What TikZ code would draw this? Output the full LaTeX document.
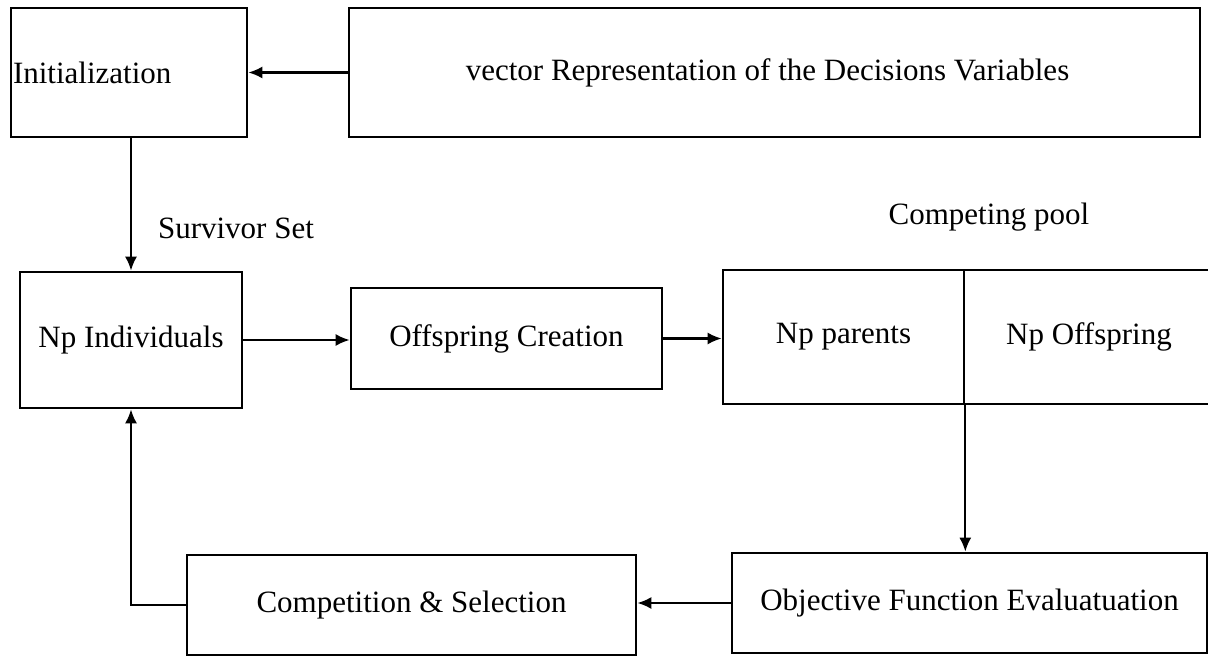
\documentclass[tikz,border=0pt]{standalone}
\usepackage{fontspec}
\setmainfont{Liberation Serif}
\usetikzlibrary{arrows.meta}

\begin{document}
\begin{tikzpicture}[x=1pt, y=-1pt, >={Latex[length=14pt,width=12pt]}, line join=miter]

% --- Global TikZ Styles ---
\tikzset{
    block/.style={
        draw=black,
        line width=2.6pt,
        inner sep=0pt,
        font=\fontsize{31}{36}\selectfont
    },
    flow/.style={
        ->,
        draw=black,
        line width=2.2pt
    },
    plaintext/.style={
        inner sep=0pt,
        font=\fontsize{31}{36}\selectfont
    }
}

% --- Frame ---
\useasboundingbox (0,0) rectangle (1208,658);
\clip (0,0) rectangle (1208,658);

% --- Bovenste rij ---
\node[block, minimum height=129pt, text width=232pt, inner xsep=2pt, align=left]
    (init) at (129,72.5) {Initialization};
\node[block, minimum width=851pt, minimum height=129pt]
    (vec) at (774.5,72.5) {\hspace*{-14pt}vector Representation of the Decisions Variables};

% --- Middelste rij ---
\node[block, minimum width=222pt, minimum height=136pt]
    (np) at (131,340) {Np Individuals};
\node[block, minimum width=311pt, minimum height=101pt]
    (off) at (506.5,338.5) {Offspring Creation};

% --- Competing pool (loopt door tot de rand) ---
\node[block, minimum width=241pt, minimum height=134pt]
    (parents) at (843.5,337) {Np parents};
\node[block, minimum width=250pt, minimum height=134pt]
    (offspr) at (1089,337) {Np Offspring};

% --- Onderste rij ---
\node[block, minimum width=449pt, minimum height=100pt]
    (comp) at (411.5,605) {Competition \& Selection};
\node[block, minimum width=475pt, minimum height=100pt]
    (obj) at (969.5,603) {Objective Function Evaluatuation};

% --- Labels ---
\node[plaintext] (survivor) at (236,228) {Survivor Set};
\node[plaintext] (pool) at (989,217) {Competing pool};

% --- Pijlen ---
\draw[flow] (vec.west) -- (init.east);
\draw[flow] (np.north |- init.south) -- (np.north);
\draw[flow] (np.east) -- (np.east -| off.west);
\draw[flow] (off.east) -- (off.east -| parents.west);
\draw[flow] (parents.south east) -- (parents.south east |- obj.north);
\draw[flow] (obj.west) -- (obj.west -| comp.east);
\draw[flow] (comp.west) -| (np.south);

\end{tikzpicture}
\end{document}
